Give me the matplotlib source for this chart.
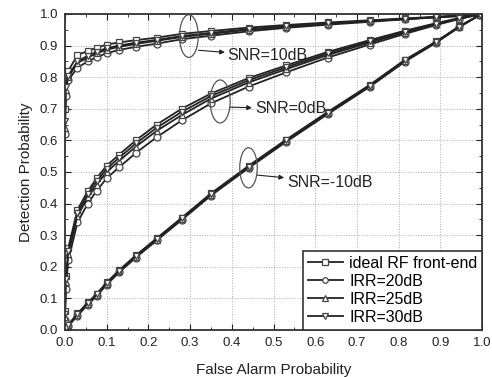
import matplotlib
matplotlib.use("Agg")
import matplotlib.pyplot as plt
from matplotlib.patches import Ellipse

plt.rcParams['font.family'] = ['Liberation Sans', 'DejaVu Sans']

# false alarm probabilities (common to all curves)
pfa = [0.0, 0.002, 0.008, 0.03, 0.055, 0.076, 0.1, 0.13, 0.17, 0.22,
       0.28, 0.35, 0.44, 0.53, 0.63, 0.73, 0.815, 0.89, 0.945, 0.995]

# SNR = 10dB
pd10_ideal = [0.70, 0.79, 0.82, 0.87, 0.883, 0.893, 0.903, 0.91, 0.917, 0.925,
              0.937, 0.946, 0.957, 0.965, 0.973, 0.98, 0.986, 0.991, 0.995, 0.999]
pd10_irr30 = [0.66, 0.77, 0.805, 0.85, 0.868, 0.88, 0.892, 0.90, 0.909, 0.918,
              0.93, 0.94, 0.952, 0.961, 0.97, 0.978, 0.984, 0.99, 0.994, 0.999]
pd10_irr25 = [0.64, 0.76, 0.80, 0.845, 0.862, 0.875, 0.887, 0.896, 0.905, 0.915,
              0.927, 0.937, 0.95, 0.96, 0.969, 0.977, 0.984, 0.99, 0.994, 0.999]
pd10_irr20 = [0.62, 0.74, 0.79, 0.83, 0.85, 0.863, 0.876, 0.886, 0.896, 0.906,
              0.92, 0.931, 0.945, 0.956, 0.966, 0.975, 0.983, 0.989, 0.993, 0.999]

# SNR = 0dB
pd0_ideal = [0.06, 0.17, 0.26, 0.38, 0.44, 0.48, 0.52, 0.555, 0.60, 0.65,
             0.70, 0.748, 0.797, 0.837, 0.88, 0.917, 0.947, 0.971, 0.987, 0.999]
pd0_irr30 = [0.05, 0.16, 0.25, 0.37, 0.43, 0.47, 0.51, 0.545, 0.59, 0.64,
             0.69, 0.74, 0.79, 0.831, 0.875, 0.913, 0.944, 0.969, 0.986, 0.999]
pd0_irr25 = [0.04, 0.15, 0.24, 0.36, 0.42, 0.46, 0.50, 0.535, 0.58, 0.63,
             0.68, 0.732, 0.783, 0.825, 0.87, 0.909, 0.941, 0.967, 0.985, 0.999]
pd0_irr20 = [0.03, 0.13, 0.22, 0.34, 0.40, 0.44, 0.48, 0.515, 0.56, 0.61,
             0.663, 0.717, 0.77, 0.815, 0.862, 0.903, 0.937, 0.965, 0.984, 0.999]

# SNR = -10dB
pdm10_ideal = [0.0, 0.006, 0.016, 0.052, 0.087, 0.114, 0.15, 0.189, 0.236, 0.29,
               0.355, 0.432, 0.519, 0.602, 0.69, 0.775, 0.855, 0.913, 0.961, 0.997]
pdm10_irr30 = [0.0, 0.005, 0.015, 0.05, 0.085, 0.112, 0.148, 0.187, 0.234, 0.288,
               0.353, 0.43, 0.517, 0.60, 0.688, 0.773, 0.853, 0.912, 0.96, 0.997]
pdm10_irr25 = [0.0, 0.004, 0.014, 0.048, 0.083, 0.11, 0.146, 0.185, 0.232, 0.286,
               0.351, 0.428, 0.515, 0.598, 0.686, 0.771, 0.851, 0.911, 0.959, 0.997]
pdm10_irr20 = [0.0, 0.003, 0.012, 0.045, 0.08, 0.107, 0.143, 0.182, 0.229, 0.283,
               0.348, 0.425, 0.512, 0.595, 0.683, 0.769, 0.849, 0.909, 0.958, 0.997]

labels = ['ideal RF front-end', 'IRR=20dB', 'IRR=25dB', 'IRR=30dB']
markers = ['s', 'o', '^', 'v']

groups = [
    [pd10_ideal, pd10_irr20, pd10_irr25, pd10_irr30],
    [pd0_ideal, pd0_irr20, pd0_irr25, pd0_irr30],
    [pdm10_ideal, pdm10_irr20, pdm10_irr25, pdm10_irr30],
]

fig = plt.figure(figsize=(4.92, 3.77), dpi=100)
ax = fig.add_axes([0.132, 0.125, 0.848, 0.838])

ink = '#222222'
for g, curves in enumerate(groups):
    for k, pd in enumerate(curves):
        ax.plot(pfa, pd, color=ink, lw=1.3, marker=markers[k], ms=5,
                mfc='white', mec='#444444', mew=0.9,
                label=labels[k] if g == 0 else None)

# ellipses and annotations
notes = [
    ((0.297, 0.93), 0.045, 0.135, 'SNR=10dB', (0.32, 0.885), (0.39, 0.868)),
    ((0.372, 0.723), 0.048, 0.136, 'SNR=0dB', (0.395, 0.705), (0.455, 0.70)),
    ((0.44, 0.513), 0.042, 0.127, 'SNR=-10dB', (0.46, 0.49), (0.532, 0.468)),
]
for center, w, h, txt, p0, p1 in notes:
    ax.add_patch(Ellipse(center, w, h, fill=False, ec='#555555', lw=0.9, zorder=5))
    ax.annotate(txt, xy=p0, xytext=p1, fontsize=11.5, color=ink, va='center',
                arrowprops=dict(arrowstyle='<|-', color=ink, lw=0.8,
                                mutation_scale=7, shrinkA=0, shrinkB=0))

ax.set_xlim(0, 1)
ax.set_ylim(0, 1)
ax.set_xticks([i / 10 for i in range(11)])
ax.set_yticks([i / 10 for i in range(11)])
ax.set_xticks([i / 20 for i in range(21)], minor=True)
ax.set_yticks([i / 20 for i in range(21)], minor=True)
ax.tick_params(which='both', direction='in', top=True, right=True,
               labelsize=9.5, colors=ink, pad=5)
ax.tick_params(which='major', length=4)
ax.tick_params(which='minor', length=2)
ax.grid(True, which='major', ls=':', color='#aaaaaa', lw=0.7)
for s in ax.spines.values():
    s.set_linewidth(1.3)
    s.set_color('#333333')

ax.set_xlabel('False Alarm Probability', fontsize=11, color=ink, labelpad=10)
ax.set_ylabel('Detection Probability', fontsize=11, color=ink, labelpad=5)

leg = ax.legend(loc='lower right', fontsize=11.5, fancybox=False, framealpha=1,
                edgecolor='#333333', borderpad=0.3, labelspacing=0.2,
                handlelength=2.2, handletextpad=0.4, borderaxespad=0,
                markerscale=0.8)
leg.get_frame().set_linewidth(1.2)

fig.savefig('out.png', dpi=100)
